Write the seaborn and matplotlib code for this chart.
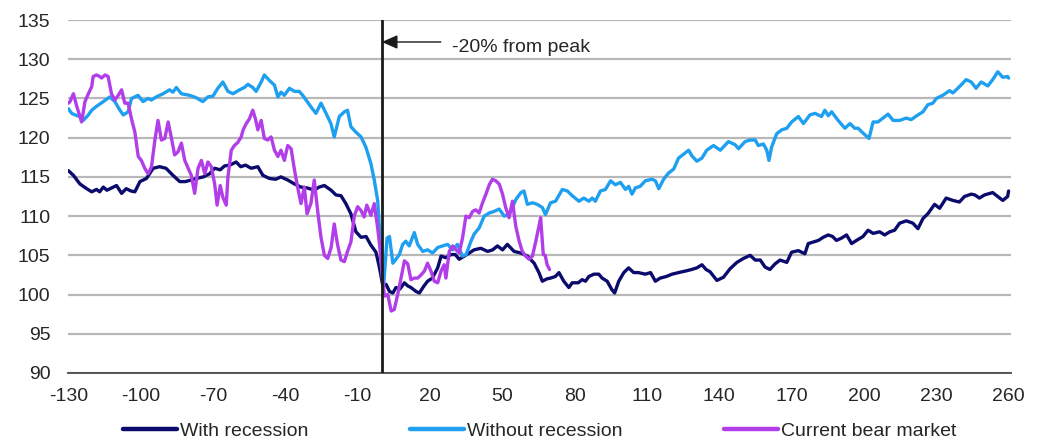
import numpy as np
import pandas as pd
import matplotlib
matplotlib.use("Agg")
import matplotlib.pyplot as plt
import seaborn as sns

# ---------------- data ----------------
with_x = [-130, -127.9, -125.2, -122.4, -120.3, -118.3, -117, -115.5, -114, -112, -110, -107.9, -106, -104,
          -102.4, -100.3, -97.6, -94.8, -92.1, -89.5, -86.6, -83.8, -81.5, -79, -76.9, -74, -71.4, -69.3, -67,
          -65.2, -63, -60.4, -58.5, -56.5, -54.2, -51.4, -49.3, -46.6, -44, -41.8, -39, -36.2, -33.5, -31, -28,
          -26, -23.8, -21, -19, -16.9, -14.9, -12.8, -10.7, -8.6, -6.5, -4.5, -2.4, -1, 0.4, 1.8, 3.2, 4.6,
          5.9, 7.5, 9.4, 10.8, 12.1, 14.2, 15.6, 17.3, 19, 21, 23.2, 24.6, 26.6, 28.7, 30.5, 32.1, 34.2, 36.3,
          38.3, 41.1, 43.9, 46, 48, 50.1, 52.1, 54.9, 57.7, 60.4, 63.2, 65.2, 66.6, 68.5, 70, 72, 73.5, 75.5,
          77.6, 79, 81.5, 83.1, 84.5, 85.9, 88, 90, 91.4, 93.5, 95.5, 96.6, 98.3, 100.4, 102.4, 104.5, 106.5,
          109.3, 111.5, 113.5, 115.5, 118, 120.4, 123.1, 126, 128.6, 130.7, 132.8, 134.5, 136.2, 139, 141.7,
          144.5, 147.3, 150, 152.8, 154.9, 157, 159, 161, 163.1, 165.2, 168, 170, 172.8, 175.5, 176.9, 179,
          181.1, 183.1, 185.2, 187, 188.6, 190.7, 192.8, 194.9, 196.9, 199.6, 201.7, 203.8, 206.5, 208.6,
          210.7, 212.7, 214.8, 217.6, 220.3, 222.4, 224.5, 226.5, 229.3, 231.4, 234.1, 236.9, 239.6, 241.7,
          244.5, 246, 247.9, 250, 253.4, 255.5, 257.6, 259.6, 260]
with_y = [115.8, 115.2, 114.1, 113.5, 113.1, 113.4, 113.1, 113.7, 113.3, 113.6, 113.9, 112.9, 113.5, 113.2,
          113.1, 114.4, 114.8, 116.1, 116.3, 116.1, 115.2, 114.4, 114.4, 114.6, 114.8, 115.0, 115.4, 116.1,
          115.9, 116.4, 116.5, 116.9, 116.3, 116.5, 116.1, 116.3, 115.2, 114.8, 114.7, 115.0, 114.6, 114.1,
          113.7, 113.6, 113.3, 113.7, 113.9, 113.3, 112.7, 112.6, 111.6, 110.3, 108.0, 107.3, 107.4, 106.3,
          105.4, 103.5, 101.2, 101.3, 100.4, 100.2, 100.9, 100.7, 101.5, 101.1, 100.9, 100.4, 100.2, 101.0,
          101.7, 102.1, 103.4, 104.9, 104.7, 105.1, 105.1, 104.5, 104.9, 105.3, 105.7, 105.9, 105.5, 105.7,
          106.2, 105.7, 106.4, 105.5, 105.3, 104.9, 104.0, 102.8, 101.7, 102.0, 102.1, 102.3, 102.8, 101.7,
          100.9, 101.5, 101.5, 101.9, 101.7, 102.3, 102.6, 102.6, 102.1, 101.7, 100.6, 100.2, 101.7, 102.8,
          103.4, 102.8, 102.8, 102.6, 102.8, 101.7, 102.1, 102.3, 102.6, 102.8, 103.0, 103.2, 103.4, 103.8,
          103.2, 102.9, 101.8, 102.2, 103.3, 104.1, 104.6, 105.0, 104.4, 104.4, 103.5, 103.2, 103.9, 104.4,
          104.1, 105.4, 105.6, 105.2, 106.5, 106.7, 106.9, 107.3, 107.6, 107.4, 106.9, 107.2, 107.6, 106.5,
          106.9, 107.4, 108.2, 107.8, 108.0, 107.6, 108.0, 108.2, 109.1, 109.4, 109.1, 108.4, 109.7, 110.3,
          111.5, 111.0, 112.3, 112.0, 111.8, 112.5, 112.8, 112.7, 112.3, 112.7, 113.0, 112.5, 112.0, 112.5,
          113.2]

without_x = [-130, -128.6, -127.2, -125.2, -123.8, -121.7, -120.3, -118.3, -115.5, -112.8, -110.7, -108.6,
             -107.2, -105.2, -103.8, -101.1, -99, -97, -95.6, -93.5, -90.7, -88, -86.6, -85.2, -83.1, -79.7,
             -77, -74.2, -72.1, -70, -68, -65.9, -63.8, -61.7, -59, -57, -55.5, -53.5, -52.1, -50, -48.7,
             -46.6, -44.5, -43.1, -41.8, -40.4, -38.3, -36.2, -34.2, -32.8, -31.4, -29.3, -27.3, -25.2, -23.1,
             -21.1, -19.7, -17.6, -15.5, -14.2, -12.8, -10.7, -8.6, -6.6, -4.5, -3.1, -1.7, -1.0, -0.3, 0.7,
             2.2, 3.2, 4.6, 5.9, 7.3, 8.7, 10, 11.4, 13.5, 14.9, 17, 19, 21.1, 23.2, 25.2, 27.3, 29.4, 31.4,
             33.5, 35, 37, 38.3, 40.4, 42.5, 44.6, 46.6, 48.7, 50.8, 52.8, 54.2, 55.6, 57.7, 59, 60.4, 62.5,
             64.5, 66.6, 67.9, 70, 72.1, 74.9, 77, 79, 81.8, 83.8, 85.9, 87.3, 88.6, 90.7, 92.8, 94.9, 96.9,
             99, 101.1, 102.4, 103.8, 105.2, 107.2, 109.3, 112.1, 113.5, 114.9, 116.9, 119, 121.1, 123.1,
             125.2, 127.3, 128.6, 130.7, 132.8, 134.8, 137.6, 140.4, 143.8, 146.6, 148, 150.7, 152.8, 154.9,
             156.2, 158.3, 159.7, 160.6, 161.7, 163.8, 165.9, 168, 170, 172.8, 174.9, 177.6, 179.7, 182.4,
             183.8, 185.2, 186.6, 189.3, 192.1, 194.2, 196.2, 197.6, 199.6, 202.1, 203.8, 205.8, 207.9, 210,
             212.1, 214.8, 217.6, 219.6, 222.4, 224.5, 226.5, 228.6, 230, 232.7, 235.5, 236.9, 239.6, 242.4,
             244.5, 246.5, 248.6, 251.4, 253.4, 255.5, 257.6, 259.6, 260]
without_y = [123.7, 123.1, 122.9, 122.7, 122.2, 122.9, 123.5, 124.0, 124.6, 125.2, 124.6, 123.5, 122.9, 123.3,
             125.0, 125.4, 124.6, 125.0, 124.8, 125.2, 125.6, 126.1, 125.8, 126.4, 125.6, 125.4, 125.1, 124.6,
             125.2, 125.3, 126.3, 127.1, 125.9, 125.6, 126.1, 126.4, 126.8, 126.4, 125.9, 127.1, 128.0, 127.3,
             126.7, 125.2, 125.8, 125.4, 126.3, 125.9, 125.9, 125.4, 124.8, 123.9, 123.1, 124.4, 123.1, 121.8,
             120.1, 122.7, 123.3, 123.5, 121.4, 120.7, 120.1, 118.8, 116.7, 114.6, 112.0, 108.6, 104.4, 100.8,
             107.2, 107.4, 104.0, 104.5, 105.1, 106.4, 106.8, 106.2, 107.9, 106.4, 105.5, 105.7, 105.3, 106.0,
             106.2, 106.4, 105.7, 106.4, 104.9, 105.1, 106.8, 107.7, 108.5, 110.0, 110.4, 110.6, 110.9, 110.0,
             110.2, 111.1, 112.1, 113.0, 113.2, 111.5, 111.7, 111.5, 111.1, 110.2, 111.7, 111.9, 113.4, 113.2,
             112.6, 111.9, 112.3, 111.9, 112.3, 111.9, 113.2, 113.4, 114.5, 114.0, 114.3, 113.4, 113.8, 112.8,
             113.6, 113.8, 114.5, 114.7, 114.5, 113.5, 114.7, 115.5, 116.0, 117.4, 117.9, 118.4, 117.7, 117.0,
             117.4, 118.4, 119.0, 118.4, 119.5, 119.1, 118.6, 119.5, 119.7, 119.7, 119.0, 119.2, 118.4, 117.1,
             118.8, 120.5, 121.0, 121.2, 122.0, 122.7, 121.8, 122.9, 123.1, 122.7, 123.5, 122.8, 123.3, 122.2,
             121.2, 121.8, 121.2, 121.2, 120.6, 119.9, 122.0, 122.0, 122.5, 123.0, 122.2, 122.2, 122.5, 122.3,
             122.9, 123.3, 124.2, 124.4, 125.0, 125.4, 126.0, 125.7, 126.5, 127.4, 127.1, 126.3, 127.1, 126.6,
             127.4, 128.4, 127.7, 127.8, 127.6]

bear_x = [-130, -129.3, -127.9, -126.6, -124.5, -123.1, -121.7, -120.3, -119.7, -118.3, -117, -116.2, -114.8,
          -113.5, -112.1, -110.7, -109.3, -107.9, -106.6, -105.2, -103.8, -102.4, -101, -99.7, -98.3, -96.9,
          -95.5, -94.1, -92.8, -91.4, -90, -88.6, -87.2, -85.9, -84.5, -83.1, -81.7, -80.3, -79, -77.6, -76.2,
          -74.8, -73.4, -72.1, -70.7, -69.3, -68.3, -67, -65.9, -64.5, -63.8, -62.4, -61.1, -59.7, -58.3,
          -57.5, -56.2, -54.9, -53.5, -52.4, -51.4, -50, -48.7, -47.3, -45.9, -44.5, -43.1, -41.8, -40.4, -39,
          -37.6, -36.2, -34.9, -33.5, -32.1, -31, -29.4, -28, -26.6, -25.2, -23.8, -22.4, -21, -19.7, -18.3,
          -16.9, -15.5, -14.2, -12.8, -11.4, -10, -8.6, -7.3, -6.2, -4.5, -3.1, -1.7, -0.8, 0.3, 1.1, 2.5, 3.9,
          5.2, 6.6, 8, 9.4, 10.8, 12.1, 13.5, 14.9, 16.3, 17.7, 19, 20.4, 21.8, 23.2, 24.6, 25.9, 26.6, 28,
          29.4, 30.8, 32.1, 33.5, 34.9, 36.3, 37.7, 39, 40.4, 41.8, 43.2, 44.6, 45.9, 47.3, 48.7, 50.1, 51.4,
          52.8, 54.2, 55.6, 57, 58.3, 59.7, 61.1, 62.5, 63.9, 65.2, 65.9, 66.4, 67, 67.8, 68.6, 69.6]
bear_y = [124.4, 124.6, 125.6, 124.1, 122.0, 124.6, 125.6, 126.5, 127.8, 128.0, 127.8, 127.6, 128.0, 127.8,
          125.6, 124.8, 125.4, 126.1, 124.4, 124.4, 122.4, 120.7, 117.6, 117.1, 116.1, 115.4, 116.3, 119.7,
          122.2, 119.7, 119.9, 122.0, 119.9, 117.8, 118.2, 119.3, 117.1, 116.1, 115.2, 112.9, 116.1, 117.1,
          115.4, 116.9, 116.3, 114.1, 111.4, 113.9, 112.4, 111.4, 115.0, 118.4, 119.0, 119.4, 120.1, 121.0,
          121.8, 122.4, 123.5, 122.4, 121.0, 122.2, 119.9, 119.7, 120.1, 118.4, 117.6, 118.4, 117.1, 119.0,
          118.6, 115.9, 113.7, 111.6, 113.7, 110.3, 111.6, 114.6, 110.7, 107.3, 105.0, 104.6, 106.0, 109.0,
          106.3, 104.4, 104.2, 105.5, 106.7, 110.0, 111.2, 110.7, 109.9, 111.4, 110.1, 111.6, 108.5, 106.1,
          102.2, 99.8, 100.0, 97.9, 98.1, 100.0, 102.1, 104.3, 103.9, 101.9, 102.1, 102.1, 102.5, 103.0, 104.0,
          103.0, 101.7, 101.5, 103.0, 103.8, 102.1, 105.5, 106.2, 105.7, 105.3, 107.2, 110.0, 109.8, 110.6,
          110.8, 110.4, 111.7, 112.8, 114.0, 114.7, 114.5, 114.1, 112.8, 111.1, 109.8, 111.9, 108.7, 106.8,
          105.5, 104.9, 104.5, 104.9, 106.8, 108.7, 109.8, 107.7, 105.1, 105.0, 103.8, 103.2]

series_names = ["With recession", "Without recession", "Current bear market"]
series_colors = ["#0b0b6e", "#1f9ff0", "#b13ee8"]
x_ticks = list(range(-130, 261, 30))
y_ticks = list(range(90, 136, 5))
marker_x = 0
annotation_text = "-20% from peak"

df = pd.concat([
    pd.DataFrame({"day": with_x, "value": with_y, "series": series_names[0]}),
    pd.DataFrame({"day": without_x, "value": without_y, "series": series_names[1]}),
    pd.DataFrame({"day": bear_x, "value": bear_y, "series": series_names[2]}),
], ignore_index=True)

# ---------------- style ----------------
sns.set_style("white")
plt.rcParams["font.family"] = ["Liberation Sans", "DejaVu Sans"]
plt.rcParams["axes.unicode_minus"] = False
FS = 14
TXT = "#262626"

fig = plt.figure(figsize=(10.48, 4.41), dpi=100)
ax = fig.add_axes([0.0652, 0.1542, 0.8995, 0.8004])

sns.lineplot(data=df, x="day", y="value", hue="series", hue_order=series_names,
             palette=dict(zip(series_names, series_colors)), estimator=None, sort=False,
             linewidth=2.4, ax=ax, legend=True)

ax.set_xlim(-130, 261)
ax.set_ylim(90, 135)
ax.set_xticks(x_ticks)
ax.set_yticks(y_ticks)
ax.set_xlabel("")
ax.set_ylabel("")

ax.yaxis.grid(True, color="#b8b8b8", linewidth=1.6)
ax.xaxis.grid(False)
ax.set_axisbelow(True)
for s in ["top", "right", "left"]:
    ax.spines[s].set_visible(False)
ax.spines["bottom"].set_color("#4a4a4a")
ax.spines["bottom"].set_linewidth(1.3)
ax.spines["bottom"].set_zorder(5)
ax.tick_params(axis="x", direction="out", length=5, width=1.2, color="#4a4a4a",
               labelsize=FS, labelcolor=TXT, pad=6)
ax.tick_params(axis="y", length=0, labelsize=FS, labelcolor=TXT, pad=13)

ax.axvline(marker_x, color="#1a1a1a", linewidth=2.0, zorder=6)
ax.annotate("", xy=(marker_x, 132.2), xytext=(24.5, 132.2),
            arrowprops=dict(arrowstyle="-|>,head_length=0.8,head_width=0.35", color="#1a1a1a",
                            lw=1.0, mutation_scale=12, shrinkA=0, shrinkB=0), zorder=7)
ax.text(29.2, 130.9, annotation_text, fontsize=FS, color=TXT, va="baseline", ha="left")

handles, labels = ax.get_legend_handles_labels()
ax.get_legend().remove()
leg = fig.legend(handles, labels, loc="center", bbox_to_anchor=(0.515, 0.022), ncol=3,
                 frameon=False, fontsize=FS, handlelength=2.8, handletextpad=0.15,
                 columnspacing=5.2, labelcolor=TXT)
for line in leg.get_lines():
    line.set_linewidth(3.2)

fig.savefig("out.png", dpi=100)
